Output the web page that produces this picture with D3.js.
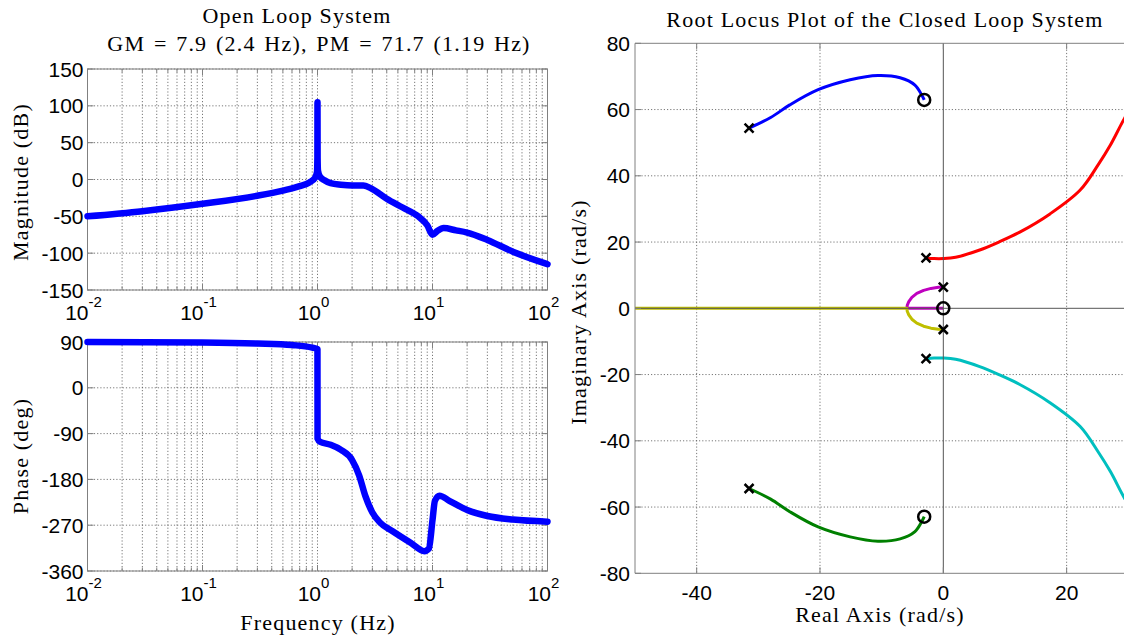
<!DOCTYPE html>
<html>
<head>
<meta charset="utf-8">
<script src="https://cdn.jsdelivr.net/npm/d3@7"></script>
<style>
  body { margin: 0; background: #fff; }
  .tl { font-family: "Liberation Sans", Arial, sans-serif; font-size: 21px; fill: #000; }
  .serif { font-family: "Liberation Serif", "Times New Roman", serif; font-size: 22px; letter-spacing: 1.2px; fill: #000; }
</style>
</head>
<body>
<svg id="fig" width="1124" height="637"></svg>
<script>
// ---- data ----
const freqTicks = [0.01, 0.1, 1, 10, 100];
const freqExp = ["-2", "-1", "0", "1", "2"];
const magTicks = [150, 100, 50, 0, -50, -100, -150];
const phaseTicks = [90, 0, -90, -180, -270, -360];
const reTicks = [-40, -20, 0, 20];
const imTicks = [80, 60, 40, 20, 0, -20, -40, -60, -80];

// magnitude (dB) vs frequency (Hz)
const magFreq = [0.01, 0.03, 0.1, 0.3, 0.5, 0.7, 0.85, 0.95, 0.99, 0.998, 1.0, 1.002, 1.01, 1.05, 1.15, 1.3, 1.6, 2.0, 2.5, 3.0, 4.0, 5.5, 7.5, 9.0, 10.0, 11.0, 12.5, 16, 20, 30, 50, 100];
const magDb   = [-50, -43, -33, -22, -15, -9, -4, 2, 10, 30, 105, 30, 12, 4, -1, -5, -7, -8, -8, -13, -26, -38, -50, -62, -75, -70, -66, -69, -72, -82, -98, -115];

// phase (deg) vs frequency (Hz)
const phFreq = [0.01, 0.1, 0.3, 0.6, 0.9, 0.999, 1.001, 1.05, 1.3, 1.6, 2.0, 2.3, 2.6, 3.0, 3.5, 4.5, 6.5, 8.5, 9.3, 10.0, 10.5, 11.5, 14, 20, 30, 50, 100];
const phDeg  = [90, 89, 87, 84, 79, 76, -100, -106, -112, -122, -142, -172, -212, -245, -265, -282, -305, -321, -316, -260, -222, -212, -222, -240, -252, -259, -263];

// root locus branches (real, imag)
const blueRe  = [-31.5, -28.0, -24.9, -20.3, -15.1, -10.6, -7.0, -4.6, -3.5, -3.1];
const blueIm  = [54.4, 57.6, 61.4, 66.0, 69.0, 70.3, 69.6, 67.4, 64.4, 62.9];
const greenRe = [-31.5, -28.0, -24.9, -20.3, -15.1, -10.6, -7.0, -4.6, -3.5, -3.1];
const greenIm = [-54.4, -57.6, -61.4, -66.0, -69.0, -70.3, -69.6, -67.4, -64.4, -62.9];
const redRe   = [-2.8, -1.5, 0, 2, 5.9, 9, 12.4, 17.3, 22.2, 25.1, 27.1, 29.4, 31];
const redIm   = [15.2, 15.0, 15.0, 15.4, 17.6, 20, 23, 28.5, 35.7, 43.3, 49.3, 57.4, 62];
const cyanRe  = [-2.8, -1.5, 0, 2, 5.9, 9, 12.4, 17.3, 22.2, 25.1, 27.1, 29.4, 31];
const cyanIm  = [-15.2, -15.0, -15.0, -15.4, -17.6, -20, -23, -28.5, -35.7, -43.3, -49.3, -57.4, -62];
const magRe   = [0, -0.8, -2.0, -3.2, -4.3, -5.1, -5.6, -5.85, -5.9, -3, 0];
const magIm   = [6.4, 6.35, 6.0, 5.4, 4.5, 3.3, 2.0, 0.9, 0, 0, 0];
const yelRe   = [0, -0.8, -2.0, -3.2, -4.3, -5.1, -5.6, -5.85, -5.9, -20, -50];
const yelIm   = [-6.4, -6.35, -6.0, -5.4, -4.5, -3.3, -2.0, -0.9, 0, 0, 0];

const poleRe = [-31.5, -31.5, -2.8, -2.8, 0, 0];
const poleIm = [54.4, -54.4, 15.2, -15.2, 6.4, -6.4];
const zeroRe = [-3.1, -3.1, 0];
const zeroIm = [62.9, -62.9, 0];

const svg = d3.select("#fig");
const gridColor = "#555";
const boxColor = "#808080";

// =========================
// BODE PANELS
// =========================
const xF = d3.scaleLog().domain([0.01, 100]).range([87.5, 547.5]);
const yMag = d3.scaleLinear().domain([-150, 150]).range([290, 69]);
const yPh = d3.scaleLinear().domain([-360, 90]).range([571, 342]);

function bodePanel(y, yTicks, freqs, vals) {
  const g = svg.append("g");
  const [x0, x1] = xF.range();
  const [yb, yt] = y.range();

  // vertical grid (decades + minor)
  g.selectAll(".vg").data(xF.ticks()).join("line")
    .attr("x1", d => xF(d)).attr("x2", d => xF(d))
    .attr("y1", yt).attr("y2", yb)
    .attr("stroke", gridColor).attr("stroke-width", 0.8)
    .attr("stroke-dasharray", "1.2,2");
  g.selectAll(".hg").data(yTicks).join("line")
    .attr("x1", x0).attr("x2", x1)
    .attr("y1", d => y(d)).attr("y2", d => y(d))
    .attr("stroke", gridColor).attr("stroke-width", 0.8)
    .attr("stroke-dasharray", "1.2,2");

  // tick marks inside the box
  xF.ticks().forEach(d => {
    const len = freqTicks.includes(d) ? 6 : 3.5;
    [[yb, yb - len], [yt, yt + len]].forEach(([a, b]) =>
      g.append("line").attr("x1", xF(d)).attr("x2", xF(d)).attr("y1", a).attr("y2", b)
        .attr("stroke", boxColor));
  });
  yTicks.forEach(d => {
    g.append("line").attr("x1", x0).attr("x2", x0 + 6).attr("y1", y(d)).attr("y2", y(d)).attr("stroke", boxColor);
    g.append("line").attr("x1", x1).attr("x2", x1 - 6).attr("y1", y(d)).attr("y2", y(d)).attr("stroke", boxColor);
  });

  g.append("rect").attr("x", x0).attr("y", yt).attr("width", x1 - x0).attr("height", yb - yt)
    .attr("fill", "none").attr("stroke", boxColor).attr("stroke-width", 1);

  // data line
  const pts = freqs.map((f, i) => [f, vals[i]]);
  g.append("path").datum(pts)
    .attr("d", d3.line().x(d => xF(d[0])).y(d => y(d[1])).curve(d3.curveMonotoneX))
    .attr("fill", "none").attr("stroke", "#0000ff").attr("stroke-width", 6.5)
    .attr("stroke-linejoin", "round").attr("stroke-linecap", "round");

  // y tick labels
  g.selectAll(".yl").data(yTicks).join("text")
    .attr("class", "tl").attr("text-anchor", "end")
    .attr("x", x0 - 4).attr("y", d => y(d) + 7.5)
    .text(d => d);

  // x tick labels 10^n
  freqTicks.forEach((d, i) => {
    const t = g.append("text").attr("class", "tl").attr("font-size", 22)
      .attr("x", xF(d) - 4).attr("y", yb + 30).attr("text-anchor", "middle");
    t.append("tspan").text("10");
    t.append("tspan").attr("dy", -13).attr("font-size", 15).text(freqExp[i]);
  });
}

bodePanel(yMag, magTicks, magFreq, magDb);
bodePanel(yPh, phaseTicks, phFreq, phDeg);

svg.append("text").attr("class", "serif")
  .attr("x", 297).attr("y", 23).attr("text-anchor", "middle").text("Open Loop System");
svg.append("text").attr("class", "serif").attr("word-spacing", 2)
  .attr("x", 319).attr("y", 51).attr("text-anchor", "middle")
  .text("GM = 7.9 (2.4 Hz), PM = 71.7 (1.19 Hz)");
svg.append("text").attr("class", "serif")
  .attr("transform", "translate(28,182) rotate(-90)").attr("text-anchor", "middle")
  .text("Magnitude (dB)");
svg.append("text").attr("class", "serif")
  .attr("transform", "translate(28,456) rotate(-90)").attr("text-anchor", "middle")
  .text("Phase (deg)");
svg.append("text").attr("class", "serif")
  .attr("x", 318).attr("y", 630).attr("text-anchor", "middle").text("Frequency (Hz)");

// =========================
// ROOT LOCUS PANEL
// =========================
const xR = d3.scaleLinear().domain([-50, 30]).range([635, 1128.3]);
const yR = d3.scaleLinear().domain([-80, 80]).range([573.3, 43.3]);
const rl = svg.append("g");
const [rx0, rx1] = xR.range();
const [ryb, ryt] = yR.range();

svg.append("defs").append("clipPath").attr("id", "rlclip")
  .append("rect").attr("x", rx0).attr("y", ryt).attr("width", rx1 - rx0).attr("height", ryb - ryt);

rl.selectAll(".vg").data(reTicks.filter(d => d !== 0)).join("line")
  .attr("x1", d => xR(d)).attr("x2", d => xR(d)).attr("y1", ryt).attr("y2", ryb)
  .attr("stroke", gridColor).attr("stroke-width", 0.8).attr("stroke-dasharray", "1.2,2");
rl.selectAll(".hg").data(imTicks.filter(d => d !== 0 && Math.abs(d) !== 80)).join("line")
  .attr("x1", rx0).attr("x2", rx1).attr("y1", d => yR(d)).attr("y2", d => yR(d))
  .attr("stroke", gridColor).attr("stroke-width", 0.8).attr("stroke-dasharray", "1.2,2");

const branches = [
  [blueRe, blueIm, "#0000ff", true],
  [greenRe, greenIm, "#008000", true],
  [redRe, redIm, "#ff0000", true],
  [cyanRe, cyanIm, "#00bfbf", true],
  [magRe, magIm, "#bf00bf", false],
  [yelRe, yelIm, "#bfbf00", false]
];
const locus = rl.append("g").attr("clip-path", "url(#rlclip)");
branches.forEach(([re, im, c, smooth]) => {
  const rline = d3.line().x(d => xR(d[0])).y(d => yR(d[1]))
    .curve(smooth ? d3.curveCatmullRom.alpha(0.5) : d3.curveLinear);
  locus.append("path").datum(re.map((r, i) => [r, im[i]]))
    .attr("d", rline).attr("fill", "none").attr("stroke", c).attr("stroke-width", 3)
    .attr("stroke-linejoin", "round");
});

// zero axes drawn over the locus
rl.append("line").attr("x1", xR(0)).attr("x2", xR(0)).attr("y1", ryt).attr("y2", ryb)
  .attr("stroke", "#555").attr("stroke-width", 1);
rl.append("line").attr("x1", rx0).attr("x2", rx1).attr("y1", yR(0)).attr("y2", yR(0))
  .attr("stroke", "#555").attr("stroke-width", 1);

// axes box (left, top, bottom)
rl.append("path")
  .attr("d", `M${rx1},${ryt}H${rx0}V${ryb}H${rx1}`)
  .attr("fill", "none").attr("stroke", boxColor).attr("stroke-width", 1);
imTicks.forEach(d => rl.append("line").attr("x1", rx0).attr("x2", rx0 + 6)
  .attr("y1", yR(d)).attr("y2", yR(d)).attr("stroke", boxColor));
reTicks.forEach(d => {
  rl.append("line").attr("x1", xR(d)).attr("x2", xR(d)).attr("y1", ryb).attr("y2", ryb - 6).attr("stroke", boxColor);
  rl.append("line").attr("x1", xR(d)).attr("x2", xR(d)).attr("y1", ryt).attr("y2", ryt + 6).attr("stroke", boxColor);
});

// poles (x) and zeros (o)
poleRe.forEach((r, i) => {
  const cx = xR(r), cy = yR(poleIm[i]), s = 4.5;
  rl.append("path").attr("d", `M${cx - s},${cy - s}L${cx + s},${cy + s}M${cx - s},${cy + s}L${cx + s},${cy - s}`)
    .attr("stroke", "#000").attr("stroke-width", 2.5);
});
zeroRe.forEach((r, i) => {
  rl.append("circle").attr("cx", xR(r)).attr("cy", yR(zeroIm[i])).attr("r", 6)
    .attr("fill", "none").attr("stroke", "#000").attr("stroke-width", 2.5);
});

rl.selectAll(".yl").data(imTicks).join("text").attr("class", "tl")
  .attr("text-anchor", "end").attr("x", rx0 - 5).attr("y", d => yR(d) + 7.5).text(d => d);
rl.selectAll(".xl").data(reTicks).join("text").attr("class", "tl")
  .attr("text-anchor", "middle").attr("x", d => xR(d)).attr("y", ryb + 27).text(d => d);

svg.append("text").attr("class", "serif")
  .attr("x", 885).attr("y", 27).attr("text-anchor", "middle")
  .text("Root Locus Plot of the Closed Loop System");
svg.append("text").attr("class", "serif")
  .attr("x", 880).attr("y", 622).attr("text-anchor", "middle").text("Real Axis (rad/s)");
svg.append("text").attr("class", "serif")
  .attr("transform", "translate(586,312) rotate(-90)").attr("text-anchor", "middle")
  .text("Imaginary Axis (rad/s)");
</script>
</body>
</html>
